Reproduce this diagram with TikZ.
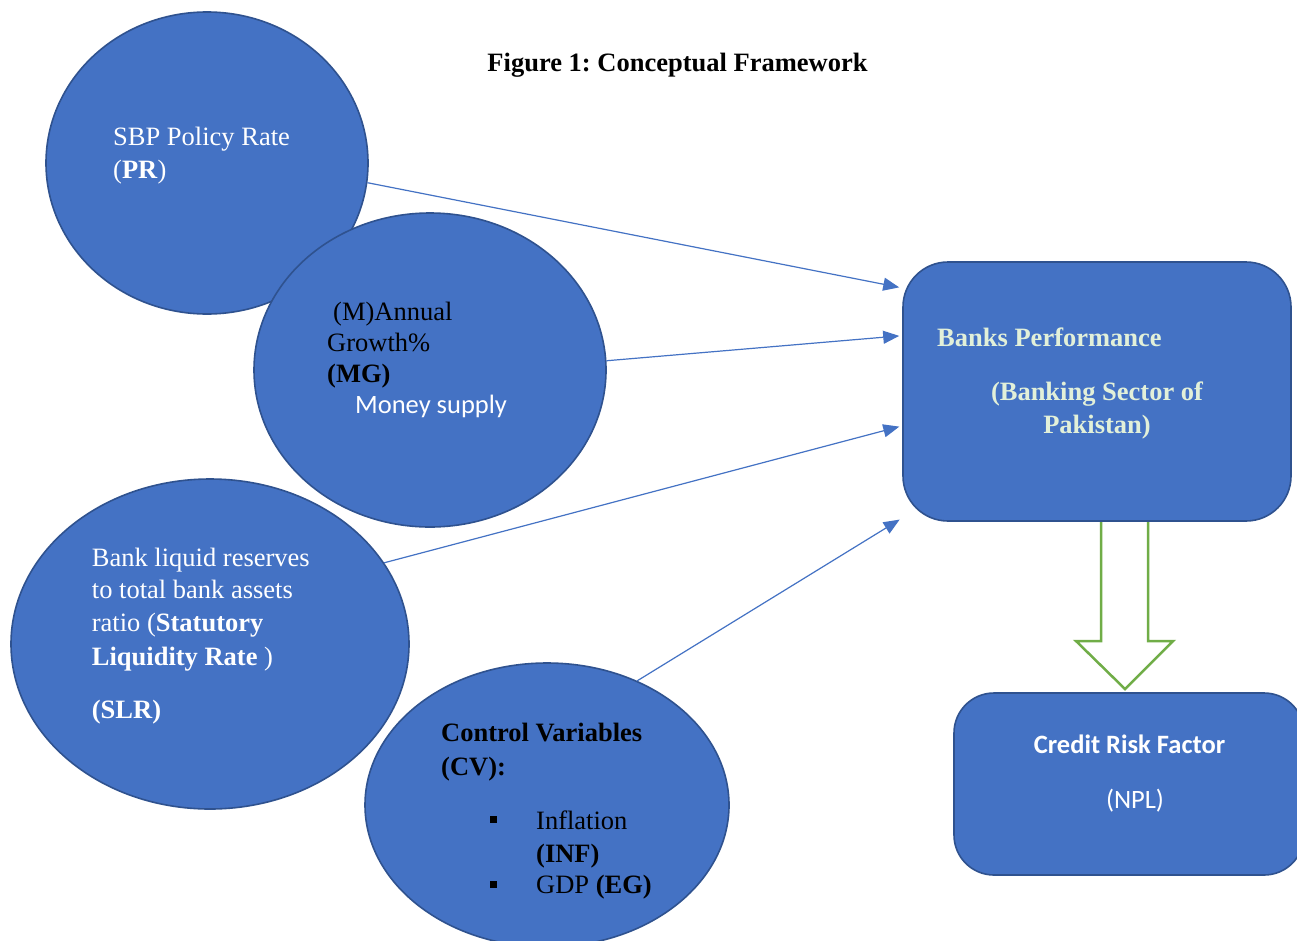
\documentclass[tikz,border=0pt]{standalone}
\usepackage{fontspec}
\setmainfont{Liberation Serif}
\newfontfamily\calib{Carlito}
\usetikzlibrary{arrows.meta,shapes.geometric}
\definecolor{fillblue}{HTML}{4472C4}
\definecolor{edgeblue}{HTML}{2F528F}
\definecolor{paletext}{HTML}{E2F0D9}
\definecolor{greenar}{HTML}{70AD47}
\frenchspacing
\begin{document}
\begin{tikzpicture}[x=1pt,y=-1pt,
 bubble/.style={ellipse, draw=edgeblue, fill=fillblue, line width=1.6pt, inner sep=0},
 card/.style={rectangle, draw=edgeblue, fill=fillblue, line width=1.6pt, inner sep=0},
 ln/.style={anchor=base west, inner sep=0, font=\fontsize{26.5}{32}\selectfont},
 lnc/.style={anchor=base, inner sep=0, font=\fontsize{26.5}{32}\selectfont},
 link/.style={draw=fillblue, line width=1.2pt, shorten >=3pt, -{Triangle[length=16pt,width=13pt]}},
 sqbullet/.style={fill=black, draw=none, minimum size=7pt, inner sep=0, rectangle},
]
\useasboundingbox (0,0) rectangle (1297,940);
\clip (0,0) rectangle (1297,940);
\fill[white] (0,0) rectangle (1297,940);

% bubbles
\node[bubble, minimum width=322pt, minimum height=302pt] (pr) at (207,163) {};
\node[bubble, minimum width=352pt, minimum height=314pt] (mg) at (430,370) {};
\node[bubble, minimum width=398pt, minimum height=330pt] (slr) at (210,644) {};
\node[bubble, minimum width=364pt, minimum height=284pt] (cv) at (547,805) {};

% boxes
\node[card, rounded corners=45pt, minimum width=388pt, minimum height=259pt] (banks) at (1097,391.5) {};
\node[card, rounded corners=40pt, minimum width=350pt, minimum height=182pt] (credit) at (1129,784) {};

% green block arrow
\draw[greenar, line width=2.5pt, fill=white, line join=miter]
  (1101,522) -- (1101,641) -- (1076,641) -- (1125,689) -- (1173,641) -- (1148,641) -- (1148,522);

% title
\node[lnc, font=\fontsize{26.5}{32}\selectfont\bfseries] (title) at (677.5,71) {Figure 1: Conceptual Framework};

% PR text
\node[ln, white] (pr1) at (113,145.7) {SBP Policy Rate};
\node[ln, white] (pr2) at (113,178) {(\textbf{PR})};

% MG text
\node[ln, black] (mg1) at (333,320) {(M)Annual};
\node[ln, black] (mg2) at (327,351.5) {Growth\%};
\node[ln, black] (mg3) at (327,382) {\textbf{(MG)}};
\node[ln, white] (mg4) at (355,413) {\calib Money supply};

% SLR text
\node[ln, white] (slr1) at (91.7,566) {Bank liquid reserves};
\node[ln, white] (slr2) at (91.7,598.5) {to total bank assets};
\node[ln, white] (slr3) at (91.7,631.5) {ratio (\textbf{Statutory}};
\node[ln, white] (slr4) at (91.7,665) {\textbf{Liquidity Rate} )};
\node[ln, white] (slr5) at (91.7,718) {\textbf{(SLR)}};

% CV text
\node[ln, black] (cv1) at (441,741.7) {\textbf{Control Variables}};
\node[ln, black] (cv2) at (441,775) {\textbf{(CV):}};
\node[sqbullet] (bul1) at (493.5,819) {};
\node[ln, black] (cv3) at (536,829) {Inflation};
\node[ln, black] (cv4) at (536,862.5) {\textbf{(INF)}};
\node[sqbullet] (bul2) at (493.5,884) {};
\node[ln, black] (cv5) at (536,893) {GDP \textbf{(EG)}};

% Banks text
\node[ln, paletext, font=\fontsize{26.5}{32}\selectfont\bfseries] (bk1) at (937,346.7) {Banks Performance};
\node[lnc, paletext, font=\fontsize{26.5}{32}\selectfont\bfseries] (bk2) at (1097,400) {(Banking Sector of};
\node[lnc, paletext, font=\fontsize{26.5}{32}\selectfont\bfseries] (bk3) at (1097,433) {Pakistan)};

% Credit text
\node[lnc, white, font=\fontsize{26.5}{32}\selectfont\calib\bfseries] (cr1) at (1129.5,753) {Credit Risk Factor};
\node[lnc, white, font=\fontsize{26.5}{32}\selectfont\calib] (cr2) at (1135,808) {(NPL)};

% connectors
\draw[link] (pr.-7) -- (banks.152.3);
\draw[link] (mg.3.2) -- (banks.164.8);
\draw[link] (slr.25.1) -- (banks.190.9);
\draw[link] (cv.54.5) -- (banks.213.5);
\end{tikzpicture}
\end{document}
